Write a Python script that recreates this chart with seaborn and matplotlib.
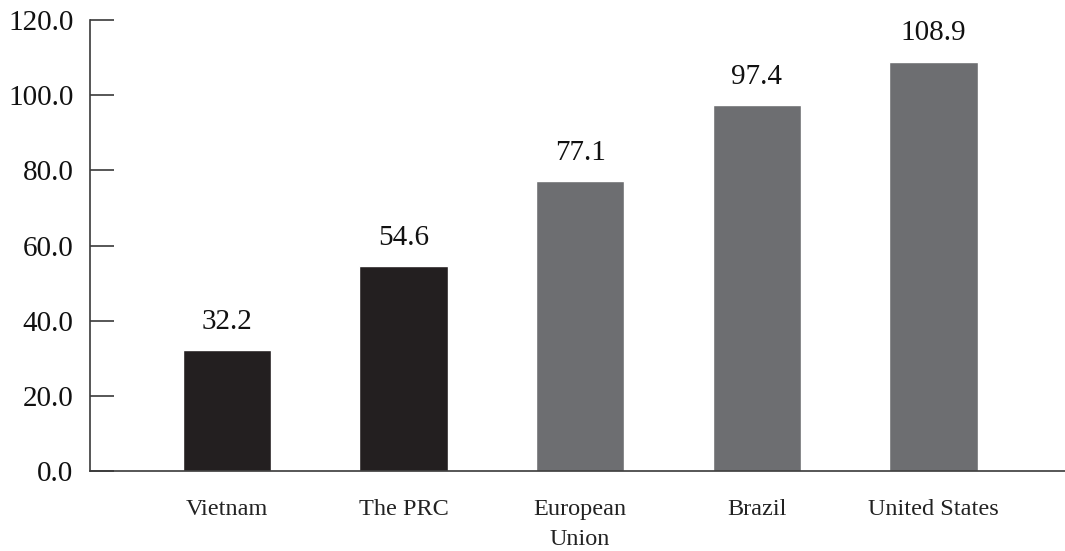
import matplotlib
matplotlib.use("Agg")
import matplotlib.pyplot as plt
import seaborn as sns
import pandas as pd

categories = ["Vietnam", "The PRC", "European\nUnion", "Brazil", "United States"]
values = [32.2, 54.6, 77.1, 97.4, 108.9]
bar_colors = ["#231f20", "#231f20", "#6d6e71", "#6d6e71", "#6d6e71"]
y_ticks = [0, 20, 40, 60, 80, 100, 120]

sns.set_style("white")
plt.rcParams['font.family'] = ['Liberation Serif', 'DejaVu Serif']

df = pd.DataFrame({"country": categories, "value": values})

fig = plt.figure(figsize=(10.65, 5.51), dpi=100)
ax = fig.add_axes([90 / 1065, 1 - 471 / 551, 975 / 1065, 451 / 551])

sns.barplot(data=df, x="country", y="value", hue="country", palette=bar_colors,
            legend=False, width=0.5, saturation=1, ax=ax)

# value labels above each bar
for i, v in enumerate(values):
    ax.annotate(f"{v:.1f}", (i, v), xytext=(0, 11), textcoords="offset points",
                ha="center", va="bottom", fontsize=21, color="#111111")

ax.set_xlim(-0.775, 4.745)
ax.set_ylim(0, 120)
ax.set_yticks(y_ticks)
ax.set_yticklabels([f"{t:.1f}" for t in y_ticks], fontsize=21, color="#111111")
ax.set_xticks(range(len(categories)))
ax.set_xticklabels(categories, fontsize=17.5, color="#222222", linespacing=1.6)
ax.set_xlabel("")
ax.set_ylabel("")

for side in ["top", "right"]:
    ax.spines[side].set_visible(False)
for side in ["left", "bottom"]:
    ax.spines[side].set_color("#3a3a3a")
    ax.spines[side].set_linewidth(1.2)

ax.tick_params(axis="y", left=True, direction="in", length=17.5, width=1.2,
               color="#3a3a3a", pad=12)
ax.tick_params(axis="x", bottom=False, length=0, pad=20)

fig.savefig("out.png", dpi=100)
